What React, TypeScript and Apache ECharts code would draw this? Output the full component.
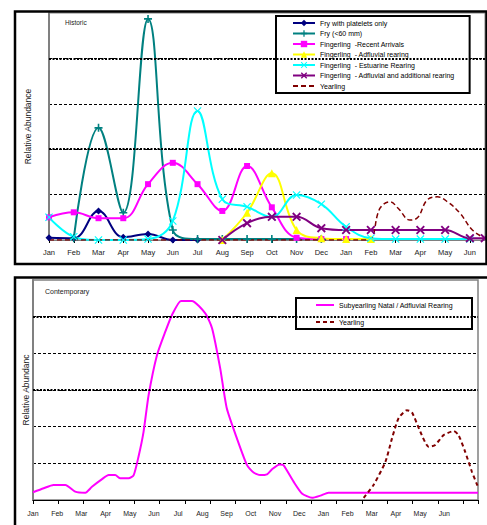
import React, { useEffect, useRef } from 'react';
import * as echarts from 'echarts';

const months = ['Jan', 'Feb', 'Mar', 'Apr', 'May', 'Jun', 'Jul', 'Aug', 'Sep', 'Oct', 'Nov', 'Dec', 'Jan', 'Feb', 'Mar', 'Apr', 'May', 'Jun'];

// Historic (month index positions, relative abundance)
const fryPlateletsX = [0, 1, 2, 3, 4, 5, 6];
const fryPlateletsY = [0.05, 0.04, 0.64, 0.06, 0.13, 0, 0];
const fry60X = [1, 2, 3, 4, 5, 6, 7, 8, 9, 10, 11];
const fry60Y = [0.04, 2.47, 0.6, 4.87, 0.22, 0.02, 0.02, 0.02, 0.02, 0.02, 0.02];
const recentX = [0, 1, 2, 3, 4, 5, 6, 7, 8, 9, 10, 11, 12];
const recentY = [0.5, 0.61, 0.48, 0.48, 1.23, 1.7, 1.23, 0.64, 1.63, 0.72, 0.05, 0.02, 0.02];
const adfluvialX = [7, 8, 9, 10, 11, 12, 13];
const adfluvialY = [0, 0.6, 1.47, 0.22, 0.04, 0.02, 0.02];
const estuarineX = [0, 1, 2, 3, 4, 5, 6, 7, 8, 9, 10, 11, 12, 13, 14, 15, 16, 17];
const estuarineY = [0.5, 0.07, 0, 0, 0.02, 0.42, 2.84, 0.9, 0.73, 0.51, 0.99, 0.79, 0.29, 0.04, 0.02, 0.02, 0.02, 0.02];
const additionalX = [7, 8, 9, 10, 11, 12, 13, 14, 15, 16, 17, 17.6];
const additionalY = [0, 0.37, 0.51, 0.51, 0.26, 0.22, 0.22, 0.22, 0.22, 0.22, 0.04, 0.04];
const yearlingHistX = [0, 1, 2, 3, 4, 5, 6, 7, 8, 9, 10, 11, 12, 12.9, 13.37, 13.78, 14.1, 14.58, 14.9, 15.27, 15.68, 16.1, 16.6, 17.1, 17.6];
const yearlingHistY = [0, 0, 0, 0, 0, 0, 0, 0, 0, 0, 0, 0, 0, 0, 0.7, 0.84, 0.7, 0.44, 0.5, 0.88, 0.95, 0.84, 0.59, 0.22, 0.04];

// Contemporary
const subX = [0, 0.42, 0.81, 1.28, 1.67, 2.07, 2.33, 2.73, 2.99, 3.25, 3.45, 3.78, 3.98, 4.17, 4.37, 4.57, 4.9, 5.23, 5.49, 5.85, 6.28, 6.81, 7.08, 7.4, 7.66, 8.06, 8.46, 8.72, 8.98, 9.25, 9.45, 9.75, 9.9, 10.3, 10.63, 11.03, 11.36, 11.68, 16.7, 17.59];
const subY = [0.21, 0.32, 0.41, 0.41, 0.23, 0.2, 0.36, 0.57, 0.68, 0.68, 0.59, 0.59, 0.68, 1.18, 1.86, 2.86, 3.95, 4.59, 5.04, 5.43, 5.43, 5.09, 4.68, 3.59, 2.5, 1.68, 0.95, 0.75, 0.68, 0.7, 0.84, 0.97, 0.95, 0.5, 0.18, 0.06, 0.12, 0.2, 0.2, 0.2];
const yearlingContX = [13.07, 13.46, 13.93, 14.19, 14.45, 14.78, 14.98, 15.31, 15.64, 15.9, 16.23, 16.63, 16.82, 17.08, 17.35, 17.57];
const yearlingContY = [0.06, 0.41, 1.04, 1.68, 2.23, 2.45, 2.39, 1.86, 1.45, 1.5, 1.77, 1.88, 1.77, 1.32, 0.77, 0.39];

const topThick = [2, 4];
const bottomThick = [3, 5];

const FONT = '"Liberation Sans", Arial, sans-serif';
const PLUS = 'path://M4,0H6V4H10V6H6V10H4V6H0V4H4Z';
const XCROSS = 'path://M0,1L1,0L5,4L9,0L10,1L6,5L10,9L9,10L5,6L1,10L0,9L4,5Z';
const STAR = 'path://M0,1.5L1.5,0L5,3.5L8.5,0L10,1.5L6.5,5L10,8.5L8.5,10L5,6.5L1.5,10L0,8.5L3.5,5Z';

const zip = (xs: number[], ys: number[]) => xs.map((x, i) => [x, ys[i]]);

const App: React.FC = () => {
  const ref = useRef<HTMLDivElement>(null);
  useEffect(() => {
    if (!ref.current) return;
    const chart = echarts.init(ref.current, undefined, { renderer: 'svg' });
    const monthFmt = (v: number) => (Number.isInteger(v) && v >= 0 && v < months.length ? months[v] : '');
    const thickLines = (vals: number[]) => ({
      silent: true,
      symbol: 'none',
      label: { show: false },
      lineStyle: { color: '#000', width: 2, type: [2, 1.5] },
      data: vals.map((v) => ({ yAxis: v })),
    });
    const topLine = (name: string, xs: number[], ys: number[], color: string, symbol: string, size: number, extra: any = {}) => ({
      name,
      type: 'line',
      xAxisIndex: 0,
      yAxisIndex: 0,
      data: zip(xs, ys),
      smooth: 0.4,
      symbol,
      symbolSize: size,
      lineStyle: { color, width: 2 },
      itemStyle: { color },
      ...extra,
    });
    const noDot = (name: string) => ({ name, itemStyle: { opacity: 0 } });
    const option: any = {
      animation: false,
      textStyle: { fontFamily: FONT },
      grid: [
        { left: 49, top: 13, width: 436, height: 227, show: true, borderColor: '#808080', borderWidth: 1 },
        { left: 33, top: 280, width: 445, height: 220, show: true, borderColor: '#808080', borderWidth: 1.5 },
      ],
      xAxis: [
        {
          type: 'value', gridIndex: 0, min: 0, max: 17.61, interval: 1,
          axisLine: { show: true, lineStyle: { color: '#808080', width: 1 } },
          axisTick: { show: true, length: 3, lineStyle: { color: '#000' } },
          axisLabel: { formatter: monthFmt, fontSize: 7.5, color: '#222', margin: 8, fontFamily: FONT, showMaxLabel: false },
          splitLine: { show: false },
        },
        {
          type: 'value', gridIndex: 1, min: 0, max: 17.59, interval: 1,
          axisLine: { show: true, lineStyle: { color: '#000', width: 1 } },
          axisTick: { show: true, length: 4, lineStyle: { color: '#000' } },
          axisLabel: { show: false },
          splitLine: { show: false },
        },
        {
          type: 'value', gridIndex: 1, position: 'bottom', min: 0, max: 18.39, interval: 1,
          axisLine: { show: false },
          axisTick: { show: false },
          axisLabel: { formatter: monthFmt, fontSize: 7, color: '#222', margin: 10, fontFamily: FONT },
          splitLine: { show: false },
        },
      ],
      yAxis: [
        {
          type: 'value', gridIndex: 0, min: 0, max: 5, interval: 1,
          name: 'Relative Abundance', nameLocation: 'middle', nameGap: 17,
          nameTextStyle: { fontSize: 8.5, color: '#222', fontFamily: FONT },
          axisLine: { show: true, lineStyle: { color: '#808080', width: 2 } },
          axisTick: { show: false },
          axisLabel: { show: false },
          splitLine: { show: true, showMaxLine: false, lineStyle: { color: '#000', width: 1, type: [3, 2] } },
        },
        {
          type: 'value', gridIndex: 1, min: 0, max: 6, interval: 1,
          name: 'Relative Abundanc', nameLocation: 'middle', nameGap: 3,
          nameTextStyle: { fontSize: 8.5, color: '#222', fontFamily: FONT },
          axisLine: { show: true, lineStyle: { color: '#808080', width: 2 } },
          axisTick: { show: false },
          axisLabel: { show: false },
          splitLine: { show: true, showMaxLine: false, lineStyle: { color: '#000', width: 1, type: [3, 2] } },
        },
      ],
      legend: [
        {
          orient: 'vertical', left: 276, top: 16,
          padding: [3, 15, 3, 16],
          itemWidth: 22, itemHeight: 8, itemGap: 2.5,
          borderColor: '#000', borderWidth: 2, backgroundColor: '#fff',
          textStyle: { fontSize: 7, color: '#000', fontFamily: FONT, lineHeight: 8 },
          data: ['Fry with platelets only', 'Fry (<60 mm)', 'Fingerling  -Recent Arrivals', 'Fingerling  - Adfluvial rearing', 'Fingerling  - Estuarine Rearing', 'Fingerling  - Adfluvial and additional rearing', noDot('Yearling')],
        },
        {
          orient: 'vertical', left: 296, top: 298,
          padding: [3, 19, 3, 19],
          itemWidth: 18, itemHeight: 8, itemGap: 9,
          borderColor: '#000', borderWidth: 2, backgroundColor: '#fff',
          textStyle: { fontSize: 7, color: '#000', fontFamily: FONT, lineHeight: 8 },
          data: [noDot('Subyearling Natal / Adfluvial Rearing'), noDot('Yearling ')],
        },
      ],
      graphic: [
        { type: 'rect', shape: { x: 15, y: 11.5, width: 471.5, height: 252.5 }, style: { fill: 'none', stroke: '#000', lineWidth: 2.5 }, z: 100 },
        { type: 'rect', shape: { x: 15, y: 277.5, width: 480, height: 260 }, style: { fill: 'none', stroke: '#000', lineWidth: 2.5 }, z: 100 },
        { type: 'text', left: 65, top: 19, style: { text: 'Historic', fontSize: 6.5, fill: '#222', fontFamily: FONT } },
        { type: 'text', left: 45, top: 288, style: { text: 'Contemporary', fontSize: 7, fill: '#222', fontFamily: FONT } },
      ],
      series: [
        topLine('Fry with platelets only', fryPlateletsX, fryPlateletsY, '#000080', 'diamond', 7, { markLine: thickLines(topThick) }),
        topLine('Fry (<60 mm)', fry60X, fry60Y, '#008080', PLUS, 8),
        topLine('Fingerling  -Recent Arrivals', recentX, recentY, '#FF00FF', 'rect', 6),
        topLine('Fingerling  - Adfluvial rearing', adfluvialX, adfluvialY, '#FFFF00', 'triangle', 8),
        topLine('Fingerling  - Estuarine Rearing', estuarineX, estuarineY, '#00FFFF', XCROSS, 8),
        topLine('Fingerling  - Adfluvial and additional rearing', additionalX, additionalY, '#800080', STAR, 9),
        {
          name: 'Yearling', type: 'line', xAxisIndex: 0, yAxisIndex: 0,
          data: zip(yearlingHistX, yearlingHistY), smooth: 0.4, symbol: 'none',
          lineStyle: { color: '#800000', width: 1.5, type: [5, 3] }, itemStyle: { color: '#800000' },
        },
        {
          name: 'Subyearling Natal / Adfluvial Rearing', type: 'line', xAxisIndex: 1, yAxisIndex: 1,
          data: zip(subX, subY), smooth: 0.2, symbol: 'none',
          lineStyle: { color: '#FF00FF', width: 2 }, itemStyle: { color: '#FF00FF' },
          markLine: thickLines(bottomThick),
        },
        {
          name: 'Yearling ', type: 'line', xAxisIndex: 1, yAxisIndex: 1,
          data: zip(yearlingContX, yearlingContY), smooth: 0.2, symbol: 'none',
          lineStyle: { color: '#800000', width: 2, type: [4, 3] }, itemStyle: { color: '#800000' },
        },
      ],
    };
    chart.setOption(option);
    return () => chart.dispose();
  }, []);
  return <div ref={ref} style={{ position: 'absolute', left: 0, top: 0, width: 487, height: 525 }} />;
};

export default App;
